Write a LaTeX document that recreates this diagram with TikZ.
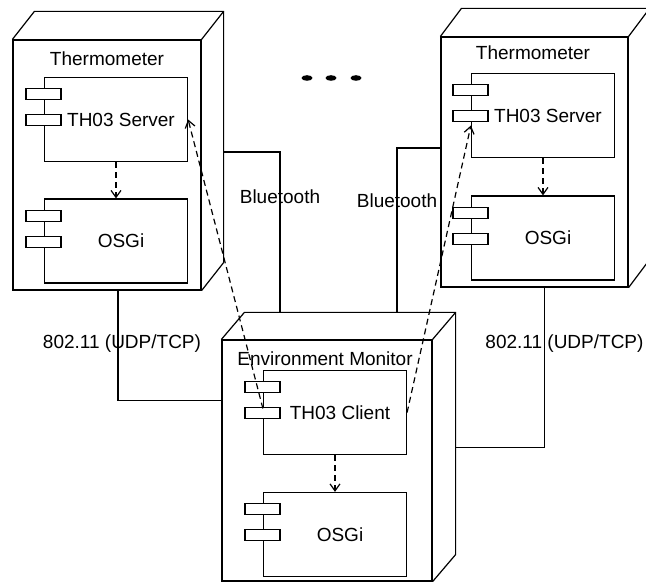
\documentclass[tikz,border=0pt]{standalone}
\usepackage{fontspec}
\setmainfont{Liberation Sans}
\usepackage{tikz}
\usetikzlibrary{arrows.meta}
\definecolor{color_ligne}{rgb}{0,0,0}
\definecolor{color_fond}{rgb}{1,1,1}

\tikzset{
  noeud/.style={draw=color_ligne, line width=1.2pt, fill=color_fond, inner sep=0pt},
  composant/.style={draw=color_ligne, line width=1.2pt, fill=color_fond, minimum width=143pt, minimum height=84pt, execute at begin node={\hspace*{10pt}}},
  texte/.style={inner sep=0pt, font=\fontsize{19}{22}\selectfont},
  lien/.style={draw=color_ligne, line width=1.2pt},
  depend/.style={draw=color_ligne, line width=1.2pt, dash pattern=on 6pt off 4pt, -{Straight Barb[length=7pt,width=10pt]}}
}
% faces du dessus et de droite d'un noeud
\newcommand{\profondeur}[3]{%
  \draw[lien] (#1.north west) -- ++(#2,#3) -- ([shift={(#2,#3)}]#1.north east) -- ([shift={(#2,#3)}]#1.south east) -- (#1.south east);
  \draw[lien] (#1.north east) -- ++(#2,#3);
}
% les deux onglets d'un composant
\newcommand{\onglets}[1]{%
  \draw[lien, fill=color_fond] ([shift={(-18,-12)}]#1.north west) rectangle ++(35,-11);
  \draw[lien, fill=color_fond] ([shift={(-18,-38)}]#1.north west) rectangle ++(35,-11);
}

\begin{document}
\begin{tikzpicture}[x=1pt,y=1pt]
	\useasboundingbox (0,0) rectangle (646,583);

	% Thermometre de gauche
	\node[noeud, minimum width=188pt, minimum height=250pt] (thermo1) at (107,418) {};
	\profondeur{thermo1}{22}{28}
	\node[texte] (titre1) at (107,524) {Thermometer};
	\node[composant, texte] (serveur1) at (116,463.5) {TH03 Server};
	\node[composant, texte] (osgi1) at (116,342) {OSGi};
	\onglets{serveur1}
	\onglets{osgi1}
	\draw[depend] (serveur1.south) -- (osgi1.north);

	% Thermometre de droite
	\node[noeud, minimum width=187pt, minimum height=250pt] (thermo2) at (534.5,421) {};
	\profondeur{thermo2}{21}{28}
	\node[texte] (titre2) at (533,530) {Thermometer};
	\node[composant, texte] (serveur2) at (543,467.5) {TH03 Server};
	\node[composant, texte] (osgi2) at (543,345) {OSGi};
	\onglets{serveur2}
	\onglets{osgi2}
	\draw[depend] (serveur2.south) -- (osgi2.north);

	% Moniteur
	\node[noeud, minimum width=210pt, minimum height=241pt] (moniteur) at (327,122.5) {};
	\profondeur{moniteur}{23}{27}
	\node[texte] (titre3) at (325,224) {Environment Monitor};
	\node[composant, texte] (client) at (335,170.5) {TH03 Client};
	\node[composant, texte] (osgi3) at (335,48.5) {OSGi};
	\onglets{client}
	\onglets{osgi3}
	\draw[depend] (client.south) -- (osgi3.north);

	% Liens
	\draw[lien] ([shift={(22,13)}]thermo1.east) -| node[texte, pos=0.64] (bt1) {Bluetooth} ([shift={(-47,27)}]moniteur.north);
	\draw[lien] ([yshift=14]thermo2.west) -| node[texte, pos=0.66] (bt2) {Bluetooth} ([shift={(70,27)}]moniteur.north);
	\draw[lien] ([xshift=11]thermo1.south) |- node[texte, pos=0.24, xshift=4] (wifi1) {802.11 (UDP/TCP)} ([yshift=60]moniteur.west);
	\draw[lien] ([xshift=10]thermo2.south) |- node[texte, pos=0.175, xshift=20] (wifi2) {802.11 (UDP/TCP)} ([shift={(23,13)}]moniteur.east);

	% Appels
	\draw[depend] ([yshift=4]client.west) -- (serveur1.east);
	\draw[depend] (client.east) -- ([yshift=-10]serveur2.west);

	% Points de suspension
	\fill[color_ligne] (307,505) ellipse (5.5pt and 2.8pt);
	\fill[color_ligne] (331,505) ellipse (5.5pt and 2.8pt);
	\fill[color_ligne] (356,505) ellipse (5.5pt and 2.8pt);
\end{tikzpicture}
\end{document}
